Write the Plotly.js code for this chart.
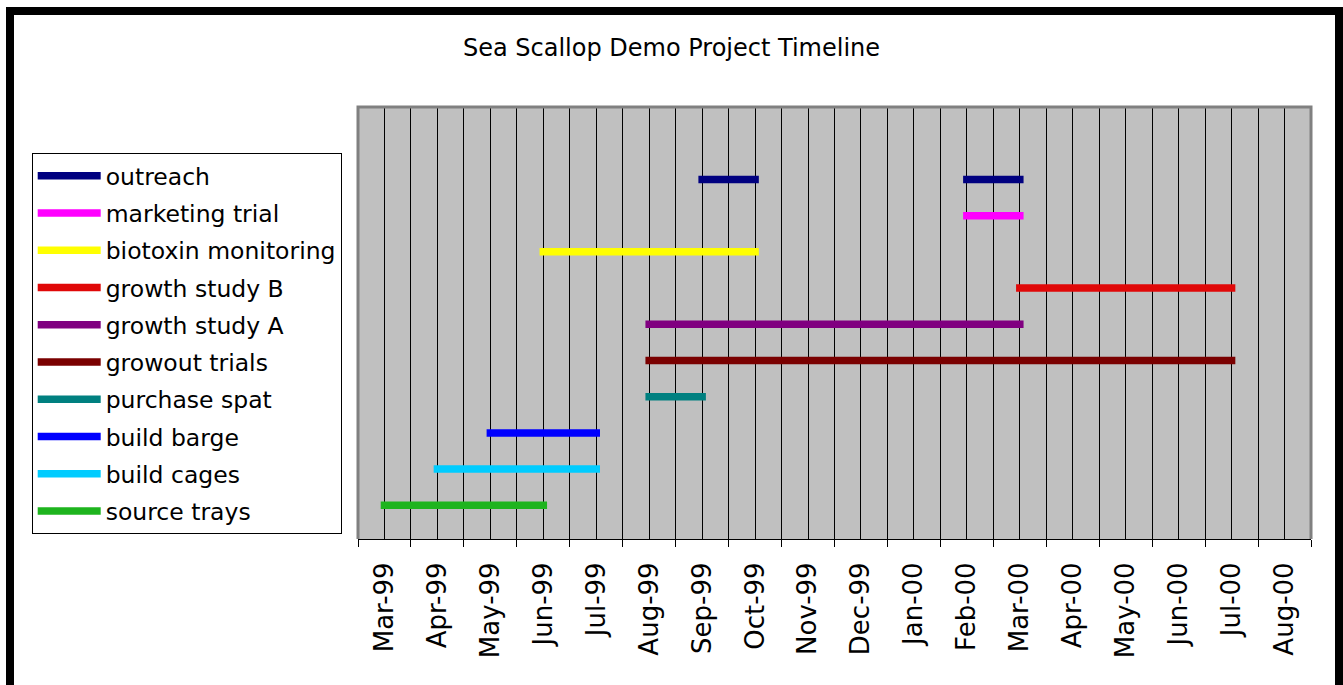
<!DOCTYPE html>
<html>
<head>
<meta charset="utf-8">
<script src="https://cdn.plot.ly/plotly-3.0.1.min.js"></script>
<style>
  html, body { margin: 0; padding: 0; background: #ffffff; width: 1343px; height: 685px; overflow: hidden; }
  #frame { position: absolute; left: 6px; top: 7px; width: 1337px; height: 700px; border: 8px solid #000; box-sizing: border-box; }
  #chart { position: absolute; left: 0; top: 0; width: 1343px; height: 685px; }
  .cartesianlayer path.js-line { stroke-linecap: square; }
</style>
</head>
<body>
<div id="frame"></div>
<div id="chart"></div>
<script>
// Month categories of the time axis (tick labels)
const months = ['Mar-99','Apr-99','May-99','Jun-99','Jul-99','Aug-99','Sep-99','Oct-99','Nov-99',
                'Dec-99','Jan-00','Feb-00','Mar-00','Apr-00','May-00','Jun-00','Jul-00','Aug-00'];

// Tasks, top to bottom
const tasks = ['outreach','marketing trial','biotoxin monitoring','growth study B','growth study A',
               'growout trials','purchase spat','build barge','build cages','source trays'];

// Start and end month of each segment of each task
const taskStarts = [['Sep-99','Feb-00'],['Feb-00'],['Jun-99'],['Mar-00'],['Aug-99'],
                    ['Aug-99'],['Aug-99'],['May-99'],['Apr-99'],['Mar-99']];
const taskEnds   = [['Oct-99','Mar-00'],['Mar-00'],['Oct-99'],['Jul-00'],['Mar-00'],
                    ['Jul-00'],['Sep-99'],['Jul-99'],['Jul-99'],['Jun-99']];

const taskColors = ['#000080','#FF00FF','#FFFF00','#E00808','#800080',
                    '#7A0000','#008080','#0000FF','#00CCFF','#1EB41E'];

const FONT = 'DejaVu Sans';

const traces = tasks.map((name, i) => {
  const row = tasks.length - i;
  const xs = [], ys = [];
  taskStarts[i].forEach((s, k) => {
    if (k > 0) { xs.push(null); ys.push(null); }
    xs.push(months.indexOf(s), months.indexOf(taskEnds[i][k]));
    ys.push(row, row);
  });
  return {
    type: 'scatter', mode: 'lines', name: name, x: xs, y: ys,
    legendgroup: 'g' + i,
    line: { color: taskColors[i], width: 7.5 },
    hoverinfo: 'skip'
  };
});

const centers = months.map((m, i) => i);
const bounds = [];
for (let i = 0; i <= months.length; i++) bounds.push(i - 0.5);

const layout = {
  width: 1343, height: 685,
  paper_bgcolor: 'rgba(0,0,0,0)',
  plot_bgcolor: '#C0C0C0',
  margin: { l: 358, r: 32, t: 107, b: 146 },
  font: { family: FONT, color: '#000' },
  title: {
    text: 'Sea Scallop Demo Project Timeline',
    font: { family: FONT, size: 24, color: '#000' },
    x: 0.5, xref: 'container', xanchor: 'center',
    y: 1 - 48 / 685, yref: 'container', yanchor: 'middle'
  },
  showlegend: true,
  legend: {
    xref: 'container', yref: 'container',
    x: 31.7 / 1343, xanchor: 'left',
    y: 1 - 153 / 685, yanchor: 'top',
    bgcolor: '#ffffff', bordercolor: '#000', borderwidth: 1,
    font: { family: FONT, size: 23.5, color: '#000' },
    traceorder: 'grouped', tracegroupgap: 3.7,
    itemwidth: 63,
    maxheight: 600
  },
  xaxis: {
    range: [-0.5, months.length - 0.5],
    tickmode: 'array', tickvals: centers, ticktext: months,
    tickangle: -90, ticks: '',
    tickfont: { family: FONT, size: 26, color: '#000' },
    ticklabelstandoff: 12,
    showgrid: true, gridcolor: '#000', gridwidth: 1,
    zeroline: false,
    showline: true, linecolor: '#000', linewidth: 1,
    minor: {
      tickmode: 'array', tickvals: bounds,
      ticks: 'outside', ticklen: 7, tickcolor: '#000', tickwidth: 1,
      showgrid: true, gridcolor: '#000', gridwidth: 1
    },
    fixedrange: true
  },
  yaxis: {
    range: [0.07, 12],
    showticklabels: false, ticks: '', showgrid: false, zeroline: false, showline: false,
    fixedrange: true
  },
  shapes: [{
    type: 'path', xref: 'paper', yref: 'paper',
    path: 'M0,0 L0,1 L1,1 L1,0',
    line: { color: '#808080', width: 3 },
    layer: 'above'
  }]
};

Plotly.newPlot('chart', traces, layout, { staticPlot: true, displayModeBar: false });
</script>
</body>
</html>
